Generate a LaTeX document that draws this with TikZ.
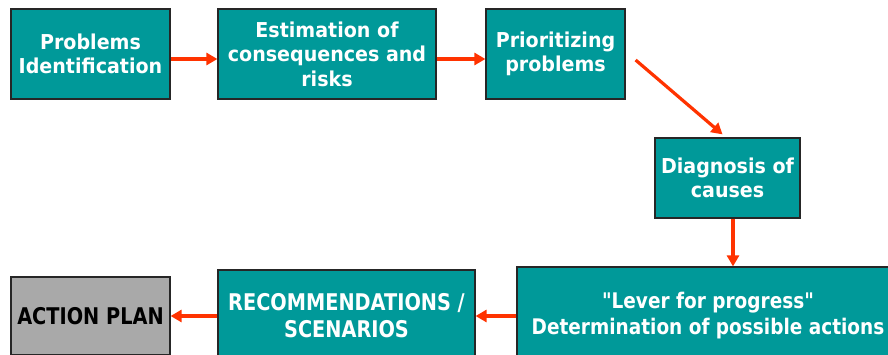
\documentclass[tikz,border=0pt]{standalone}
\usepackage{fontspec}
\setmainfont{DejaVu Sans}
\newfontfamily\topfont[FakeStretch=0.93]{DejaVu Sans}
\newfontfamily\leverfont[FakeStretch=0.86]{DejaVu Sans}
\newfontfamily\capsfont[FakeStretch=0.84]{DejaVu Sans}
\usetikzlibrary{arrows.meta}
\definecolor{boxteal}{HTML}{009999}
\definecolor{arroworange}{HTML}{FF3300}
\definecolor{plangray}{HTML}{A9A9A9}

\begin{document}
\begin{tikzpicture}[x=1pt,y=-1pt,
    stepbox/.style={draw=black!85,line width=1.2pt,fill=boxteal,text=white,
        font=\fontsize{20.5}{24.5}\selectfont\topfont\bfseries,align=center,inner sep=0pt},
    leverbox/.style={stepbox,font=\fontsize{21.5}{26}\selectfont\leverfont\bfseries},
    capsbox/.style={stepbox,font=\fontsize{23}{27}\selectfont\capsfont\bfseries},
    flow/.style={arroworange,line width=3.2pt,-{Triangle[length=11pt,width=12pt]}}]

    \useasboundingbox (0,0) rectangle (888,354);

    \node[stepbox,minimum width=159pt,minimum height=90pt] (ident) at (90.5,54)
        {Problems\\Identification};
    \node[stepbox,minimum width=218pt,minimum height=90pt] (estim) at (327,54)
        {Estimation of\\consequences and\\risks};
    \node[stepbox,minimum width=139pt,minimum height=90pt] (prior) at (555.5,54)
        {Prioritizing\\problems};
    \node[stepbox,minimum width=145pt,minimum height=80pt] (diagn) at (727.5,178)
        {Diagnosis of\\causes};

    \node[leverbox,minimum width=382pt,minimum height=98pt] (lever) at (708,316)
        {"Lever for progress"\\Determination of possible actions};
    \node[capsbox,minimum width=257pt,minimum height=92pt] (recom) at (346.5,316)
        {RECOMMENDATIONS /\\SCENARIOS};
    \node[capsbox,fill=plangray,text=black,minimum width=159pt,minimum height=78pt]
        (plan) at (90.5,316) {ACTION PLAN};

    \draw[flow] ([yshift=-5pt]ident.east) -- ([yshift=-5pt]estim.west);
    \draw[flow] ([yshift=-5pt]estim.east) -- ([yshift=-5pt]prior.west);
    \draw[flow] ([xshift=10pt,yshift=-6pt]prior.east) -- ([xshift=-5pt,yshift=3pt]diagn.north);
    \draw[flow] ([xshift=5.5pt]diagn.south) -- ([xshift=5.5pt]diagn.south |- lever.north);
    \draw[flow] (lever.west) -- (recom.east);
    \draw[flow] (recom.west) -- (plan.east);

\end{tikzpicture}
\end{document}
